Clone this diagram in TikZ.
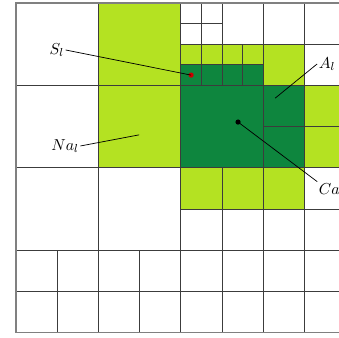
\documentclass[tikz,border=0pt]{standalone}
\usepackage{amsmath}
\usepackage{tikz}
\usetikzlibrary{calc}
\usepackage{xcolor}
\definecolor{lgreen}{RGB}{180, 226, 34}
\definecolor{dgreen}{RGB}{14, 134, 62}
\definecolor{gridgray}{RGB}{60, 60, 60}

\begin{document}
\begin{tikzpicture}[x=1cm, y=1cm,
    cellline/.style={gridgray, line width=0.6pt},
    leader/.style={black, line width=0.5pt},
    lbl/.style={font=\fontsize{11}{13}\selectfont, inner sep=1pt}]
  \clip (-0.388,-0.107) rectangle (7.84,8.073);

  % Light green cells
  \fill[lgreen] (2,4) rectangle (4,8);
  \fill[lgreen] (4,6.5) rectangle (6,7);
  \fill[lgreen] (6,6) rectangle (7,7);
  \fill[lgreen] (7,4) rectangle (8,6);
  \fill[lgreen] (4,3) rectangle (7,4);

  % Dark green cells
  \fill[dgreen] (4,6) rectangle (6,6.5);
  \fill[dgreen] (4,4) rectangle (7,6);

  % Coarse grid
  \draw[cellline] (2,0) -- (2,8);
  \draw[cellline] (4,0) -- (4,8);
  \draw[cellline] (6,0) -- (6,8);
  \draw[cellline] (0,2) -- (8,2);
  \draw[cellline] (0,4) -- (8,4);
  \draw[cellline] (0,6) -- (8,6);

  % Bottom rows
  \foreach \x in {1,3,5,7}
    \draw[cellline] (\x,0) -- (\x,2);
  \draw[cellline] (0,1) -- (8,1);

  % Right part, rows 2--4
  \draw[cellline] (5,2) -- (5,4);
  \draw[cellline] (7,2) -- (7,4);
  \draw[cellline] (4,3) -- (8,3);

  % Right part, rows 4--6
  \draw[cellline] (7,4) -- (7,6);
  \draw[cellline] (6,5) -- (8,5);

  % Top right
  \draw[cellline] (5,6) -- (5,8);
  \draw[cellline] (7,6) -- (7,8);
  \draw[cellline] (4,7) -- (8,7);
  \draw[cellline] (4.5,6) -- (4.5,8);
  \draw[cellline] (4,7.5) -- (5,7.5);
  \draw[cellline] (5.5,6) -- (5.5,7);
  \draw[cellline] (4,6.5) -- (6,6.5);

  % Border
  \draw[gray, line width=1pt] (0,0) rectangle (8,8);

  % Points
  \coordinate (S) at (4.25,6.25);
  \coordinate (Na) at (2.99,4.80);
  \coordinate (A) at (6.29,5.69);
  \coordinate (Ca) at (5.39,5.11);
  \fill[red!80!black] (S) circle (1.8pt);
  \fill[black] (Ca) circle (1.8pt);

  % Labels
  \node[lbl] (Slab) at (0.99,6.86) {$S_l$};
  \node[lbl] (Nalab) at (1.19,4.53) {$Na_l$};
  \node[lbl] (Alab) at (7.55,6.52) {$A_l$};
  \node[lbl, anchor=west] (Calab) at (7.31,3.46) {$Ca_l$};

  % Leader lines
  \draw[leader] (Slab.east) -- (S);
  \draw[leader] (Nalab.east) -- (Na);
  \draw[leader] (Alab.west) -- (A);
  \draw[leader] (Ca) -- (Calab.north west);
\end{tikzpicture}
\end{document}
